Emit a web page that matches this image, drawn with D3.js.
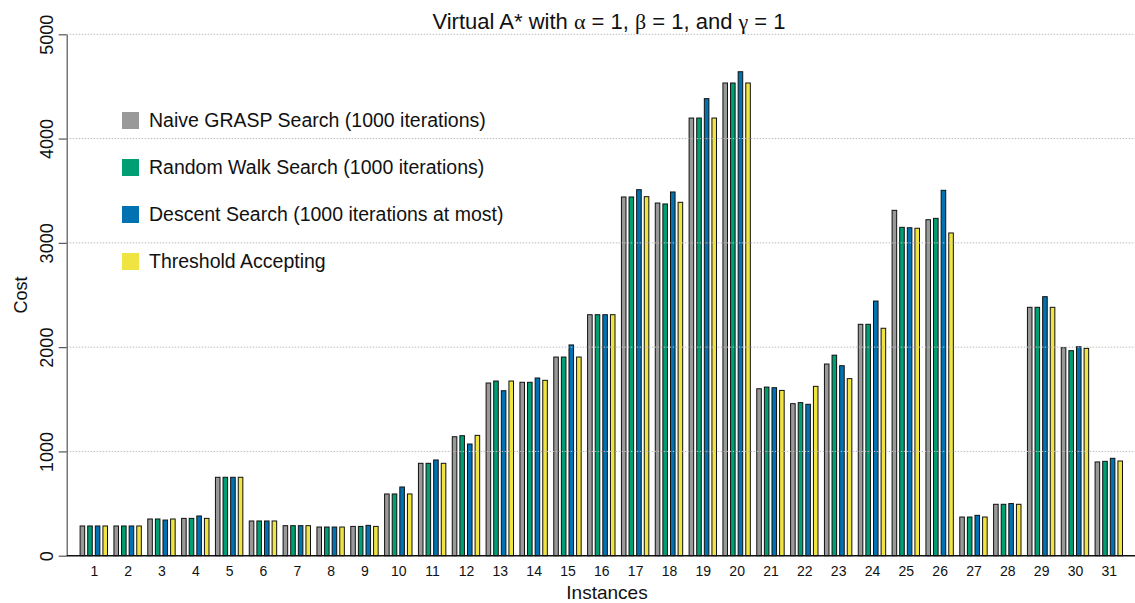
<!DOCTYPE html>
<html>
<head>
<meta charset="utf-8">
<script src="https://cdn.jsdelivr.net/npm/d3@7"></script>
<style>
  html, body { margin: 0; padding: 0; background: #fff; }
  svg { display: block; font-family: "Liberation Sans", Arial, Helvetica, sans-serif; }
</style>
</head>
<body>
<svg id="chart" width="1135" height="603"></svg>
<script>
// Instances on the x axis
const instances = d3.range(1, 32).map(String);

// Cost per instance for each search method
const naiveGrasp = [285, 285, 352, 358, 752, 333, 288, 275, 281, 592, 886, 1141, 1656, 1663, 1905, 2311,
  3440, 3382, 4197, 4533, 1601, 1458, 1838, 2219, 3312, 3222, 371, 493, 2382, 1995, 899];
const randomWalk = [285, 285, 352, 358, 752, 333, 288, 275, 281, 592, 886, 1151, 1675, 1663, 1905, 2311,
  3440, 3373, 4197, 4533, 1617, 1468, 1923, 2219, 3149, 3235, 371, 493, 2382, 1966, 905];
const descent = [285, 285, 342, 381, 752, 333, 288, 275, 291, 659, 918, 1071, 1582, 1704, 2021, 2311,
  3510, 3488, 4383, 4641, 1611, 1452, 1822, 2442, 3145, 3504, 387, 500, 2484, 2004, 934];
const threshold = [285, 285, 352, 358, 752, 333, 288, 275, 281, 592, 886, 1154, 1675, 1682, 1905, 2311,
  3443, 3389, 4197, 4533, 1585, 1624, 1698, 2181, 3140, 3095, 371, 493, 2382, 1988, 908];

const seriesNames = [
  "Naive GRASP Search (1000 iterations)",
  "Random Walk Search (1000 iterations)",
  "Descent Search (1000 iterations at most)",
  "Threshold Accepting"
];
const seriesColors = ["#999999", "#009E73", "#0072B2", "#F0E442"];
const yTicks = [0, 1000, 2000, 3000, 4000, 5000];

const seriesValues = [naiveGrasp, randomWalk, descent, threshold];

const svg = d3.select("#chart");

const axisX = 66.7, plotRight = 1135;
const y = d3.scaleLinear().domain([0, 5000]).range([555.7, 34.3]);
const x0 = d3.scalePoint().domain(instances).range([93.8, 1108.8]);
const x1 = d3.scaleBand().domain(d3.range(4)).range([-13.7, 13.7]).paddingInner(0.4);

// bars
const groups = svg.append("g").selectAll("g")
  .data(instances)
  .join("g")
  .attr("transform", d => `translate(${x0(d)},0)`);

groups.selectAll("rect")
  .data((d, i) => seriesValues.map((vals, s) => ({ s, v: vals[i] })))
  .join("rect")
  .attr("x", d => x1(d.s))
  .attr("width", x1.bandwidth())
  .attr("y", d => y(d.v))
  .attr("height", d => y(0) - y(d.v))
  .attr("fill", d => seriesColors[d.s])
  .attr("stroke", "#111")
  .attr("stroke-width", 1);

// dotted horizontal grid
svg.append("g").selectAll("line")
  .data(yTicks.filter(t => t > 0))
  .join("line")
  .attr("x1", axisX).attr("x2", plotRight)
  .attr("y1", d => y(d)).attr("y2", d => y(d))
  .attr("stroke", "#bbbbbb")
  .attr("stroke-width", 1)
  .attr("stroke-dasharray", "1.5,1.5");

// y axis
const yAxis = d3.axisLeft(y).tickValues(yTicks).tickSize(8).tickSizeOuter(0).tickFormat(d3.format("d"));
const gy = svg.append("g").attr("transform", `translate(${axisX},0)`).call(yAxis);
gy.select(".domain").attr("stroke", "#555").attr("stroke-width", 1.2);
gy.selectAll(".tick line").attr("stroke", "#555").attr("stroke-width", 1.2);
gy.selectAll(".tick text")
  .attr("font-size", 18)
  .attr("fill", "#111")
  .attr("x", 0).attr("y", 0).attr("dy", null)
  .attr("text-anchor", "middle")
  .attr("transform", "translate(-14,0) rotate(-90)");

// x axis (labels only) and baseline
const xAxis = d3.axisBottom(x0).tickSize(0).tickSizeOuter(0);
const gx = svg.append("g").attr("transform", `translate(0,${y(0)})`).call(xAxis);
gx.select(".domain").remove();
gx.selectAll(".tick text").attr("font-size", 14).attr("fill", "#111").attr("dy", null).attr("y", 20);

svg.append("line")
  .attr("x1", axisX).attr("x2", plotRight)
  .attr("y1", y(0)).attr("y2", y(0))
  .attr("stroke", "#111").attr("stroke-width", 1.5);

// axis titles
svg.append("text")
  .attr("x", 607).attr("y", 599)
  .attr("text-anchor", "middle")
  .attr("font-size", 19).attr("fill", "#111")
  .text("Instances");

svg.append("text")
  .attr("transform", `translate(27,${(y(0) + y(5000)) / 2}) rotate(-90)`)
  .attr("text-anchor", "middle")
  .attr("font-size", 18).attr("fill", "#111")
  .text("Cost");

// title with Greek symbols
const title = svg.append("text")
  .attr("x", 609).attr("y", 29)
  .attr("text-anchor", "middle")
  .attr("font-size", 22).attr("fill", "#111");
const greek = { "α": true, "β": true, "γ": true };
["Virtual A* with ", "α", " = 1, ", "β", " = 1, and ", "γ", " = 1"].forEach(part => {
  const t = title.append("tspan").text(part);
  if (greek[part]) t.attr("font-family", "'Liberation Serif', 'DejaVu Serif', serif");
});

// legend
const legend = svg.append("g").attr("transform", "translate(122,112)");
const rows = legend.selectAll("g")
  .data(seriesNames)
  .join("g")
  .attr("transform", (d, i) => `translate(0,${i * 47})`);
rows.append("rect")
  .attr("width", 17).attr("height", 17)
  .attr("fill", (d, i) => seriesColors[i]);
rows.append("text")
  .attr("x", 27).attr("y", 15)
  .attr("font-size", 19.5).attr("fill", "#111")
  .text(d => d);
</script>
</body>
</html>
